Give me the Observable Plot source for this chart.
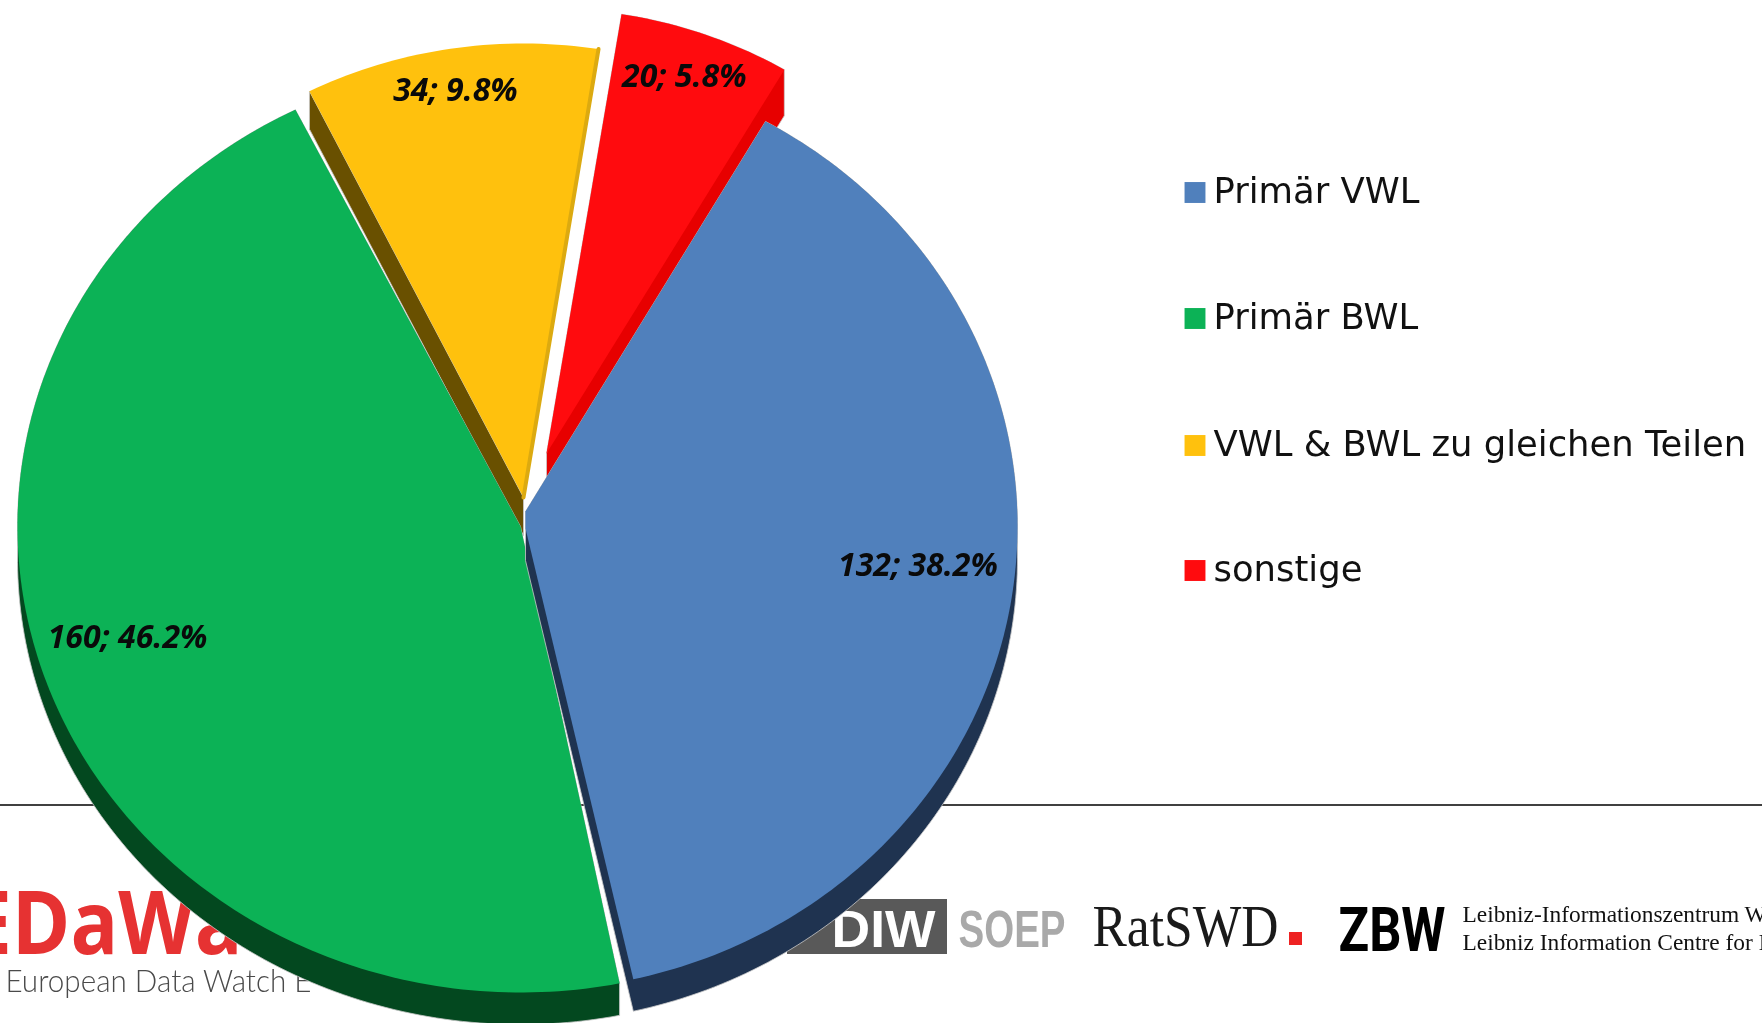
<!DOCTYPE html>
<html lang="de">
<head>
<meta charset="utf-8">
<script src="https://cdn.jsdelivr.net/npm/d3@7"></script>
<script src="https://cdn.jsdelivr.net/npm/@observablehq/plot@0.6"></script>
<style>
html,body{margin:0;padding:0;background:#fff;overflow:hidden}
svg{display:block;filter:blur(0.45px)}
</style>
</head>
<body>
<div id="chart"></div>
<script>
// ---- data ----
const categories = ["Primär VWL", "Primär BWL", "VWL & BWL zu gleichen Teilen", "sonstige"];
const counts = [132, 160, 34, 20];
const shares = [38.2, 46.2, 9.8, 5.8];
const sliceColors = ["#5080bc", "#0cb256", "#ffc10d", "#ff0b0e"];
const wallColors = ["#1f3350", "#03481f", "#695000", "#e70000"];

// ---- layout (pixels in a 1762x1023 frame) ----
const W = 1762, H = 1023;
const startAngle = 29.2;
const depths = [32, 32, 38, 46];
const centers = [[525, 526], [520, 526], [523, 497], [546, 453]];
const radii = [[492, 464], [503, 466], [480, 454], [470, 445]];
// tilted 3D pie: how far each drawn edge departs from its true angle
const angleTweaks = [[0, 0.8], [2.1, 0.4], [0.5, 0.6], [0.8, 1.2]];
const tips = [[[525, 511], [525, 528]], [[520, 526], [520, 526]], [[523, 497], [523, 497]], [[546, 453], [546, 453]]];
const labelFractions = [[0.806, 0.585], [0.826, 0.733], [0.932, 0.907], [0.866, 0.900]];
const drawOrder = [3, 2, 1, 0]; // red, yellow, then green and blue in front
const legendY = [192, 318, 445, 570];

const total = d3.sum(counts);
let acc = startAngle;
const slices = categories.map((category, i) => {
  const a0 = acc + angleTweaks[i][0], a1 = acc + counts[i] / total * 360 + angleTweaks[i][1];
  acc += counts[i] / total * 360;
  return {category, i, a0, a1, mid: (a0 + a1) / 2};
});
const rad = d => d * Math.PI / 180;
function arc(s) {
  const [cx, cy] = centers[s.i], [rx, ry] = radii[s.i];
  const pts = [];
  const n = Math.ceil(s.a1 - s.a0);
  for (let k = 0; k <= n; k++) {
    const a = rad(s.a0 + (s.a1 - s.a0) * k / n);
    pts.push([cx + rx * Math.sin(a), cy - ry * Math.cos(a)]);
  }
  return pts;
}
const outline = s => [tips[s.i][0], ...arc(s), tips[s.i][1]];
function wall(s) {
  // the yellow slice shows its side wall only along its left edge
  const base = s.i === 2 ? [arc(s)[0], tips[s.i][0]] : outline(s);
  const d = depths[s.i];
  const all = base.concat(base.map(([x, y]) => [x, y + d]));
  return d3.polygonHull(all);
}
const toRows = (pts, category) => pts.map(([x, y]) => ({x, y, category}));

const labels = slices.map(s => {
  const [cx, cy] = centers[s.i], [rx, ry] = radii[s.i], [fx, fy] = labelFractions[s.i];
  return {
    text: `${counts[s.i]}; ${shares[s.i]}%`,
    x: cx + fx * rx * Math.sin(rad(s.mid)),
    y: cy - fy * ry * Math.cos(rad(s.mid))
  };
});

// footer logos, all kept as real text
const footerTexts = [
  {t: "EDaWa", x: -33, y: 953, size: 88, font: "Open Sans", weight: 700, fill: "#e63232", len: 275},
  {t: "European Data Watch E", x: 5, y: 991, size: 32, font: "Lato", weight: 300, fill: "#4a4a4a", len: 306},
  {t: "DIW", x: 831, y: 946, size: 52, font: "Liberation Sans", weight: 700, fill: "#ffffff", len: 104},
  {t: "SOEP", x: 958, y: 946, size: 52, font: "Liberation Sans", weight: 700, fill: "#a9a9a9", len: 107},
  {t: "RatSWD", x: 1092, y: 945, size: 59, font: "Liberation Serif", weight: 400, fill: "#1a1a1a", len: 186},
  {t: "ZBW", x: 1338, y: 950, size: 62, font: "Roboto", weight: 700, fill: "#000000", len: 107},
  {t: "Leibniz-Informationszentrum Wirtschaft", x: 1462, y: 921, size: 23.4, font: "Liberation Serif", weight: 400, fill: "#111111", len: 0},
  {t: "Leibniz Information Centre for Economics", x: 1462, y: 949, size: 23.4, font: "Liberation Serif", weight: 400, fill: "#111111", len: 0}
];
const footerRects = [
  {x1: 787, x2: 947, y1: 899, y2: 954, fill: "#595959"},
  {x1: 1289, x2: 1302, y1: 932, y2: 945, fill: "#ee2222"}
];

const sliceMarks = drawOrder.flatMap(i => {
  const s = slices[i], w = wall(s);
  const marks = [
    Plot.line(toRows(w.concat([w[0]]), s.category), {x: "x", y: "y", fill: wallColors[i], stroke: "#c9c9c9", strokeWidth: 0.8}),
    Plot.line(toRows(outline(s), s.category), {x: "x", y: "y", fill: "category", stroke: "none"})
  ];
  if (i === 2) {
    const a = arc(s);
    marks.push(Plot.line(toRows([a[a.length - 1], tips[i][1]], s.category), {x: "x", y: "y", stroke: "#dcaa10", strokeWidth: 4}));
  }
  return marks;
});

const chart = Plot.plot({
  width: W, height: H,
  margin: 0,
  x: {domain: [0, W], range: [0, W], axis: null},
  y: {domain: [0, H], range: [0, H], axis: null},
  color: {domain: categories, range: sliceColors},
  style: {background: "#fff"},
  marks: [
    Plot.ruleY([804.5], {stroke: "#000", strokeWidth: 1.5}),
    Plot.rect(footerRects, {x1: "x1", x2: "x2", y1: "y1", y2: "y2", fill: d => d.fill}),
    ...footerTexts.map(d => Plot.text([d], {
      x: "x", y: "y", text: "t", textAnchor: "start", lineAnchor: "bottom",
      fontSize: d.size, fontFamily: d.font, fontWeight: d.weight, fill: d.fill
    })),
    ...sliceMarks,
    Plot.text(labels, {
      x: "x", y: "y", text: "text", fontSize: 32, fontFamily: "Open Sans",
      fontWeight: 700, fontStyle: "italic", fill: "#0a0a0a"
    }),
    Plot.dot(categories, {
      x: () => 1194.5, y: (d, i) => legendY[i], symbol: "square", r: 11.8, fill: d => d, stroke: "none"
    }),
    Plot.text(categories, {
      x: () => 1213, y: (d, i) => legendY[i] - 1, text: d => d, textAnchor: "start",
      fontSize: 35.4, fontFamily: "DejaVu Sans", fill: "#111"
    })
  ]
});

// squeeze logo lettering to the width it has in the picture
d3.select(chart).selectAll("text").each(function () {
  const txt = this.textContent;
  const f = footerTexts.find(d => d.t === txt);
  if (f && f.len) {
    this.setAttribute("textLength", f.len);
    this.setAttribute("lengthAdjust", "spacingAndGlyphs");
  }
});
document.getElementById("chart").append(chart);
</script>
</body>
</html>
